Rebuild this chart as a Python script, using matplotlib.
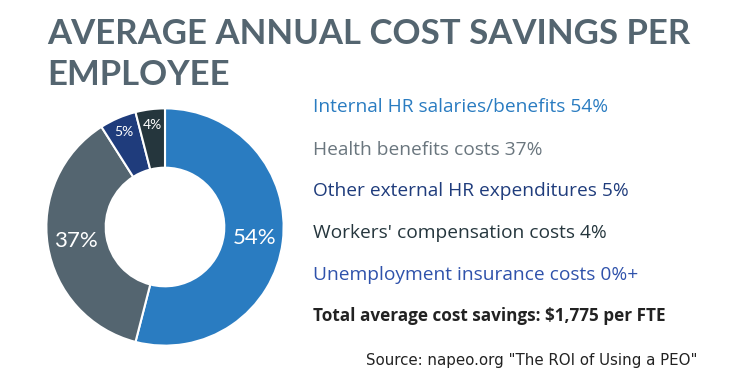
import matplotlib.pyplot as plt
import numpy as np

W, H = 734, 379

categories = ["Internal HR salaries/benefits", "Health benefits costs",
              "Other external HR expenditures", "Workers' compensation costs",
              "Unemployment insurance costs"]
shares = [54, 37, 5, 4]
legend_pct = ["54%", "37%", "5%", "4%", "0%+"]
slice_colors = ["#2a7cc1", "#546570", "#1f3c7c", "#25363d"]
legend_colors = ["#2a7cc1", "#6a767e", "#1f3c7c", "#25363d", "#2f52ab"]
total_text = "Total average cost savings: $1,775 per FTE"
source_text = 'Source: napeo.org "The ROI of Using a PEO"'

fig = plt.figure(figsize=(W / 100, H / 100), dpi=100)
fig.patch.set_facecolor("white")

def fx(px):
    return px / W

def fy(py):
    return 1 - py / H

# title
fig.text(fx(47), fy(34), "AVERAGE ANNUAL COST SAVINGS PER", family="Lato",
         weight="bold", fontsize=25, color="#546570", va="center")
fig.text(fx(47), fy(75), "EMPLOYEE", family="Lato",
         weight="bold", fontsize=25, color="#546570", va="center")

# donut
cx, cy, r = 165, 227, 121
ax = fig.add_axes([fx(cx - r), fy(cy + r), fx(2 * r), (2 * r) / H])
wedges, texts = ax.pie(shares, colors=slice_colors, startangle=90, counterclock=False,
                       radius=1, wedgeprops=dict(width=0.5, edgecolor="white", linewidth=1.5))
ax.set_xlim(-1.02, 1.02)
ax.set_ylim(-1.02, 1.02)
ax.set_aspect("equal")
ax.axis("off")

for w, s in zip(wedges, shares):
    mid = np.deg2rad((w.theta1 + w.theta2) / 2)
    big = s > 10
    d = 0.76 if big else 0.87
    ax.text(d * np.cos(mid), d * np.sin(mid), f"{s}%", ha="center", va="center",
            color="white", family="Lato", fontsize=16 if big else 10)

# legend text
ys = [107, 150, 191, 233, 275]
for cat, pct, col, y in zip(categories, legend_pct, legend_colors, ys):
    fig.text(fx(313), fy(y), f"{cat} {pct}", family="Open Sans", fontsize=13.8,
             color=col, va="center")
fig.text(fx(313), fy(316), total_text, family="Open Sans", weight="bold", fontsize=12.3,
         color="#222222", va="center")

fig.text(fx(697), fy(360), source_text, family="DejaVu Sans", fontsize=10.8,
         color="#222222", va="center", ha="right")

fig.savefig("out.png", dpi=100)
